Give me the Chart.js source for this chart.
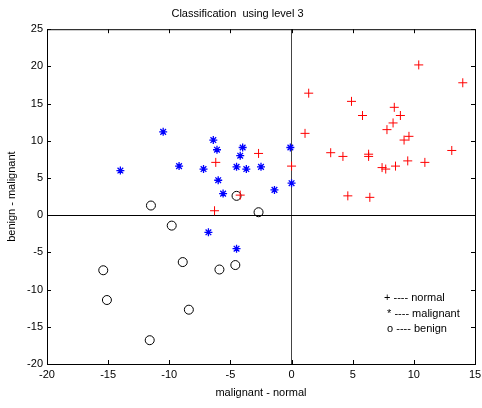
<!DOCTYPE html>
<html>
<head>
<meta charset="utf-8">
<script src="https://cdn.jsdelivr.net/npm/chart.js@4"></script>
<style>
  html, body { margin: 0; padding: 0; background: #fff; }
  #wrap { width: 482px; height: 408px; }
</style>
</head>
<body>
<div id="wrap"><canvas id="class-chart"></canvas></div>
<script>
// values
const normalX = [-6.2, -2.7, -4.2, -6.3, 0.0, 1.1, 1.4, 3.2, 4.2, 4.6, 4.9, 5.8, 6.3, 6.3, 6.4,
                 7.4, 7.7, 7.8, 8.3, 8.4, 8.5, 8.9, 9.2, 9.6, 9.5, 10.4, 10.9, 13.1, 14.0];
const normalY = [7.1, 8.3, 2.7, 0.6, 6.6, 11.0, 16.4, 8.4, 7.9, 2.6, 15.3, 13.4, 8.2, 7.9, 2.4,
                 6.4, 6.2, 11.5, 12.4, 14.5, 6.6, 13.4, 10.1, 10.6, 7.3, 20.2, 7.1, 8.7, 17.8];

const malignantX = [-14.0, -10.5, -9.2, -7.2, -6.4, -6.1, -6.0, -5.6, -4.5, -4.2, -4.0, -3.7,
                    -2.5, -0.1, 0.0, -1.4, -6.8, -4.5];
const malignantY = [6.0, 11.2, 6.6, 6.2, 10.1, 8.8, 4.7, 2.9, 6.5, 8.0, 9.1, 6.2,
                    6.5, 9.1, 4.3, 3.4, -2.3, -4.5];

const benignX = [-11.5, -9.8, -8.9, -15.4, -15.1, -8.4, -11.6, -5.9, -4.6, -4.5, -2.7];
const benignY = [1.3, -1.4, -6.3, -7.4, -11.4, -12.7, -16.8, -7.3, -6.7, 2.6, 0.4];

const xTicks = [-20, -15, -10, -5, 0, 5, 10, 15];
const yTicks = [-20, -15, -10, -5, 0, 5, 10, 15, 20, 25];

const legendLines = ['+ ---- normal', ' * ---- malignant', ' o ---- benign'];

function toPoints(xs, ys) {
    return xs.map((x, i) => ({ x: x, y: ys[i] }));
}

const FONT = 'Liberation Sans, Arial, sans-serif';

// box, inward ticks and the text legend, matlab style
const matlabFrame = {
    id: 'matlabFrame',
    afterDraw(chart) {
        const c = chart.ctx;
        const a = chart.chartArea;
        const xs = chart.scales.x, ys = chart.scales.y;
        c.save();
        c.strokeStyle = '#000';
        c.lineWidth = 1;
        c.strokeRect(a.left + 0.5, a.top + 0.5, a.right - a.left, a.bottom - a.top);
        c.beginPath();
        xTicks.forEach(v => {
            const px = Math.round(xs.getPixelForValue(v)) + 0.5;
            c.moveTo(px, a.bottom); c.lineTo(px, a.bottom - 4);
            c.moveTo(px, a.top); c.lineTo(px, a.top + 4);
        });
        yTicks.forEach(v => {
            const py = Math.round(ys.getPixelForValue(v)) + 0.5;
            c.moveTo(a.left, py); c.lineTo(a.left + 4, py);
            c.moveTo(a.right, py); c.lineTo(a.right - 4, py);
        });
        c.stroke();

        c.fillStyle = '#000';
        c.font = '11px ' + FONT;
        c.textBaseline = 'middle';
        c.textAlign = 'left';
        legendLines.forEach((t, i) => {
            c.fillText(t, 384, 298 + i * 15.5);
        });
        c.restore();
    }
};

const chartEl = document.querySelector('#class-chart').getContext('2d');

const classChart = new Chart(chartEl, {
    type: 'scatter',
    data: {
        datasets: [
            {
                label: 'normal',
                data: toPoints(normalX, normalY),
                pointStyle: 'cross',
                pointRadius: 4.5,
                borderColor: '#ff0000',
                borderWidth: 1
            },
            {
                label: 'malignant',
                data: toPoints(malignantX, malignantY),
                pointStyle: 'star',
                pointRadius: 4,
                borderColor: '#0000ff',
                borderWidth: 1.3
            },
            {
                label: 'benign',
                data: toPoints(benignX, benignY),
                pointStyle: 'circle',
                pointRadius: 4.5,
                borderColor: '#000000',
                backgroundColor: 'rgba(0,0,0,0)',
                borderWidth: 1
            }
        ]
    },
    options: {
        responsive: true,
        maintainAspectRatio: false,
        animation: false,
        layout: { padding: { top: 0, right: 7, left: 0, bottom: 0 } },
        plugins: {
            legend: { display: false },
            tooltip: { enabled: false },
            title: {
                display: true,
                text: 'Classification  using level 3',
                color: '#000',
                font: { family: FONT, size: 11, weight: 'normal' },
                padding: { top: 7, bottom: 9 }
            }
        },
        scales: {
            x: {
                type: 'linear',
                min: -20,
                max: 15,
                afterBuildTicks: s => { s.ticks = xTicks.map(v => ({ value: v })); },
                afterFit: s => { s.height = 44; s.paddingLeft = 0; s.paddingRight = 0; },
                border: { display: false },
                grid: {
                    drawTicks: false,
                    color: ctx => ctx.tick && ctx.tick.value === 0 ? '#444' : 'rgba(0,0,0,0)'
                },
                ticks: { color: '#000', padding: 4, font: { family: FONT, size: 11 } },
                title: {
                    display: true,
                    text: 'malignant - normal',
                    color: '#000',
                    font: { family: FONT, size: 11 },
                    padding: { top: 0, bottom: 8 }
                }
            },
            y: {
                type: 'linear',
                min: -20,
                max: 25,
                afterBuildTicks: s => { s.ticks = yTicks.map(v => ({ value: v })); },
                afterFit: s => { s.width = 47; s.paddingTop = 0; s.paddingBottom = 0; },
                border: { display: false },
                grid: {
                    drawTicks: false,
                    color: ctx => ctx.tick && ctx.tick.value === 0 ? '#000' : 'rgba(0,0,0,0)'
                },
                ticks: { color: '#000', padding: 4, font: { family: FONT, size: 11 } },
                title: {
                    display: true,
                    text: 'benign - malignant',
                    color: '#000',
                    font: { family: FONT, size: 11 },
                    padding: { top: 5, bottom: 0 }
                }
            }
        }
    },
    plugins: [matlabFrame]
});
</script>
</body>
</html>
